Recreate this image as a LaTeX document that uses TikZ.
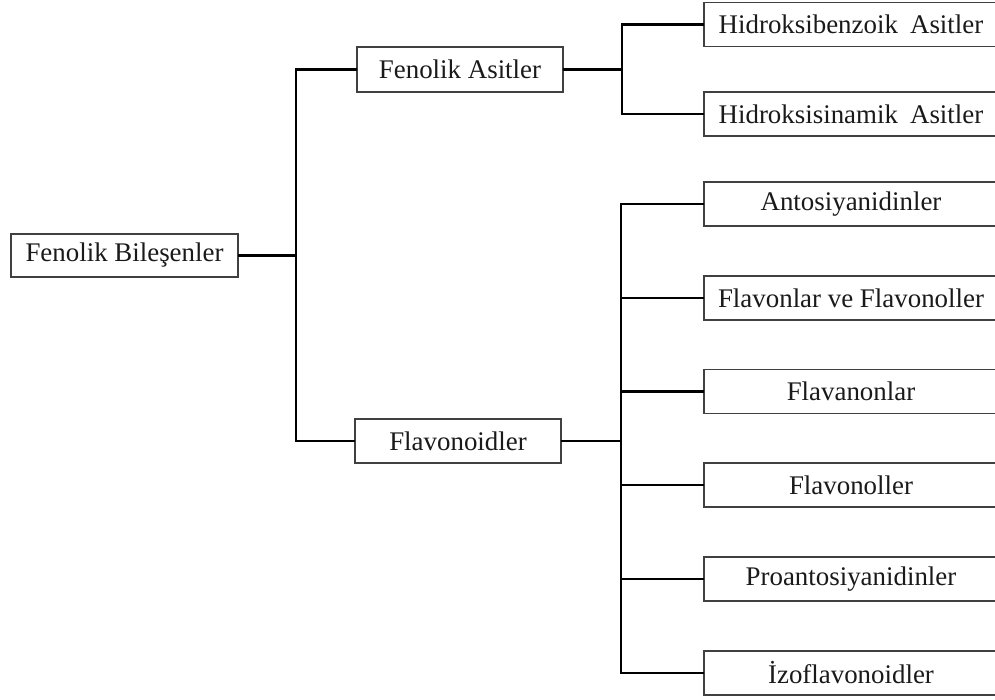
\documentclass[tikz,border=0pt]{standalone}
\usepackage{fontspec}
\setmainfont{Liberation Serif}
\definecolor{boxline}{HTML}{404040}
\definecolor{txt}{HTML}{1A1A1A}
\begin{document}
\begin{tikzpicture}[x=1pt,y=-1pt,
  box/.style={draw=boxline, line width=1.3pt, inner sep=0pt, text=txt,
    font=\fontsize{26.9}{30}\selectfont, minimum height=44pt},
  rbox/.style={box, minimum width=294pt},
  conn/.style={line width=2.2pt, black, line cap=rect}]
\clip (0,0) rectangle (995,700);
\fill[white] (0,0) rectangle (995,700);
% nodes
\node[box, minimum width=227pt, minimum height=43pt] (root) at (124.5,255.5) {Fenolik Bileşenler};
\node[box, minimum width=206pt, minimum height=45pt] (fa) at (460,69.5) {Fenolik Asitler};
\node[box, minimum width=206pt] (fl) at (458,441) {Flavonoidler};
\node[rbox] (hb) at (851,24.5) {Hidroksibenzoik\hspace{0.2em} Asitler};
\node[rbox] (hs) at (851,114) {Hidroksisinamik\hspace{0.2em} Asitler};
\node[rbox] (an) at (851,204) {Antosiyanidinler};
\node[rbox] (fv) at (851,298) {Flavonlar ve Flavonoller};
\node[rbox] (fn) at (851,391.5) {Flavanonlar};
\node[rbox] (fo) at (851,485) {Flavonoller};
\node[rbox] (pr) at (851,579) {Proantosiyanidinler};
\node[rbox] (iz) at (851,673) {İzoflavonoidler};
% junction coordinates
\coordinate (j1) at (296,0);
\coordinate (j2) at (622,0);
\coordinate (j3) at (621,0);
% connectors
\draw[conn] (root.east) -- (root.east -| j1);
\draw[conn] (fa.west) -- (fa.west -| j1) -- (fl.west -| j1) -- (fl.west);
\draw[conn] (fa.east) -- (fa.east -| j2);
\draw[conn] (hb.west) -- (hb.west -| j2) -- (hs.west -| j2) -- (hs.west);
\draw[conn] (fl.east) -- (fl.east -| j3);
\draw[conn] (an.west) -- (an.west -| j3) -- (iz.west -| j3) -- (iz.west);
\foreach \n in {fv,fn,fo,pr}{
  \draw[conn] (\n.west -| j3) -- (\n.west);
}
\end{tikzpicture}
\end{document}
